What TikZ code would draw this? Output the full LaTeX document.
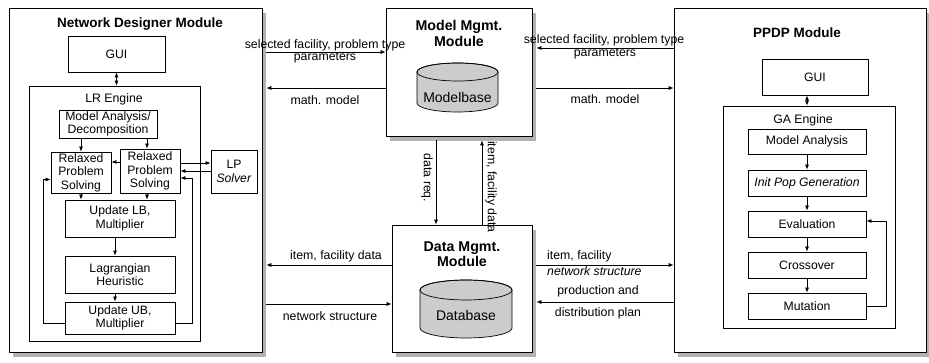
\documentclass[tikz,border=0pt]{standalone}
\usepackage{fontspec}
\setmainfont{Liberation Sans}
\usetikzlibrary{arrows.meta,shadows,calc}
\begin{document}
\begin{tikzpicture}[x=1pt,y=-1pt,
  lbl/.style={font=\fontsize{12.3}{13.5}\selectfont, inner sep=0pt, align=center},
  cyltext/.style={font=\fontsize{14}{16}\selectfont, inner sep=0pt},
  box/.style={draw, line width=0.8pt, fill=white, inner sep=0pt, align=center, font=\fontsize{12.2}{13.5}\selectfont},
  engine/.style={draw, line width=0.8pt},
  module/.style={draw, line width=0.7pt, fill=white, drop shadow={shadow xshift=4pt, shadow yshift=-5pt, fill=gray!60, opacity=1}},
  title/.style={font=\bfseries\fontsize{13.5}{16}\selectfont, inner sep=0pt, align=center},
  arr/.style={line width=0.7pt, -{Latex[length=5pt,width=4pt]}},
  darr/.style={line width=0.7pt, {Latex[length=5pt,width=4pt]}-{Latex[length=5pt,width=4pt]}},
  cylfill/.style={fill=gray!40, draw, line width=0.7pt}
]
\useasboundingbox (0,0) rectangle (929,363);

% modules
\node[module, minimum width=253pt, minimum height=344pt] (ndm) at (135.5,180) {};
\node[module, minimum width=146pt, minimum height=128pt] (mmm) at (459,72) {};
\node[module, minimum width=140pt, minimum height=127pt] (dmm) at (462,288.5) {};
\node[module, minimum width=252pt, minimum height=344pt] (ppdp) at (800,180) {};

% ---------- Network designer module
\node[title] (ndmt) at (140,24) {Network Designer Module};
\node[box, minimum width=97pt, minimum height=36pt] (gui1) at (116.5,54) {GUI};
\node[engine, minimum width=171pt, minimum height=255pt] (lr) at (114.5,213.5) {};
\node[lbl] (lrt) at (114,99) {LR Engine};
\node[box, minimum width=98pt, minimum height=28pt] (mad) at (108,124) {Model Analysis/\\Decomposition};
\node[box, minimum width=60pt, minimum height=41pt] (rps1) at (81,172.5) {Relaxed\\Problem\\Solving};
\node[box, minimum width=60pt, minimum height=44pt] (rps2) at (150,171) {Relaxed\\Problem\\Solving};
\node[box, minimum width=46pt, minimum height=43pt] (lp) at (234,171.5) {LP\\\textit{Solver}};
\node[box, minimum width=110pt, minimum height=37pt] (lb) at (120,218.5) {Update LB,\\Multiplier};
\node[box, minimum width=110pt, minimum height=37pt] (lh) at (120,274.5) {Lagrangian\\Heuristic};
\node[box, minimum width=110pt, minimum height=32pt] (ub) at (120,318) {Update UB,\\Multiplier};

\draw[darr] (gui1.south) -- (gui1.south |- lr.north);
\draw[arr] (mad.south -| rps1.north) -- (rps1.north);
\draw[arr] ([xshift=-3pt]mad.south -| rps2.north) -- ([xshift=-3pt]rps2.north);
\draw[arr] ([yshift=9pt]rps2.west) -- ([yshift=9pt]rps2.west -| rps1.east);
\draw[arr] ([yshift=8pt]rps2.east) -- ([yshift=8pt]rps2.east -| lp.west);
\draw[arr] (rps2.east -| lp.west) -- (rps2.east);
\draw[arr] (rps1.south) -- (rps1.south |- lb.north);
\draw[arr] ([xshift=-3pt]rps2.south) -- ([xshift=-3pt]rps2.south |- lb.north);
\draw[arr] ([xshift=-5pt]lb.south) -- ([xshift=-5pt]lh.north);
\draw[arr] ([xshift=-5pt]lh.south) -- ([xshift=-5pt]ub.north);
\coordinate (lxl) at (43,318);
\coordinate (lxr) at (192,318);
\draw[arr] ([yshift=-5pt]ub.west) -- ([yshift=-5pt]ub.west -| lxl) -- ([yshift=-7pt]rps1.west -| lxl) -- ([yshift=-7pt]rps1.west);
\draw[arr] ([yshift=-5pt]ub.east) -- ([yshift=-5pt]ub.east -| lxr) -- ([yshift=-7pt]rps2.east -| lxr) -- ([yshift=-7pt]rps2.east);

% ---------- PPDP module
\node[title] (ppdpt) at (797,33) {PPDP Module};
\node[box, minimum width=106pt, minimum height=36pt] (gui2) at (815,77) {GUI};
\node[engine, minimum width=172pt, minimum height=222pt] (ga) at (809,217) {};
\node[lbl] (gat) at (803,120) {GA Engine};
\node[box, minimum width=118pt, minimum height=25pt] (ma2) at (807,141.5) {Model Analysis};
\node[box, minimum width=118pt, minimum height=26pt] (init) at (807,183) {\textit{Init Pop Generation}};
\node[box, minimum width=118pt, minimum height=26pt] (eval) at (807,224) {Evaluation};
\node[box, minimum width=118pt, minimum height=26pt] (cross) at (807,265) {Crossover};
\node[box, minimum width=118pt, minimum height=26pt] (mut) at (807,306) {Mutation};
\draw[darr] (gui2.south -| ma2.north) -- (ga.north -| ma2.north);
\draw[arr] (ma2.south) -- (init.north);
\draw[arr] (init.south) -- (eval.north);
\draw[arr] (eval.south) -- (cross.north);
\draw[arr] (cross.south) -- (mut.north);
\coordinate (fbx) at (886,300);
\draw[arr] (mut.east) -- (mut.east -| fbx) -- ([yshift=3pt]eval.east -| fbx) -- ([yshift=3pt]eval.east);

% ---------- Model management module
\node[title, font=\bfseries\fontsize{14.2}{16}\selectfont] (mmt) at (459,33) {Model Mgmt.\\Module};
\draw[cylfill] (417,72) -- (417,103) arc[start angle=180,end angle=360,x radius=40.5pt,y radius=9pt] -- (498,72) arc[start angle=0,end angle=180,x radius=40.5pt,y radius=9pt] -- cycle;
\draw[line width=0.7pt] (457.5,72) ellipse [x radius=40.5pt, y radius=9pt];
\node[cyltext] (mbt) at (457.5,97) {Modelbase};

% ---------- Data management module
\node[title, font=\bfseries\fontsize{14.2}{15}\selectfont] (dmt) at (462,254) {Data Mgmt.\\Module};
\draw[cylfill] (420,290) -- (420,328) arc[start angle=180,end angle=360,x radius=46pt,y radius=10pt] -- (512,290) arc[start angle=0,end angle=180,x radius=46pt,y radius=10pt] -- cycle;
\draw[line width=0.7pt] (466,290) ellipse [x radius=46pt, y radius=10pt];
\node[cyltext] (dbt) at (466,315) {Database};

% ---------- inter-module connectors
\draw[arr] ([xshift=4pt,yshift=20pt]ndm.east |- mmm.west) -- ([yshift=20pt]mmm.west);
\draw[arr] ([yshift=-16pt]mmm.west) -- ([xshift=4pt,yshift=-16pt]ndm.east |- mmm.west);
\draw[arr] ([yshift=24pt]ppdp.west |- mmm.east) -- ([xshift=4pt,yshift=24pt]mmm.east);
\draw[arr] ([xshift=4pt,yshift=-16pt]mmm.east) -- ([yshift=-16pt]ppdp.west |- mmm.east);
\draw[arr] ([yshift=23.5pt]dmm.west) -- ([xshift=4pt,yshift=23.5pt]ndm.east |- dmm.west);
\draw[arr] ([xshift=4pt,yshift=-15.5pt]ndm.east |- dmm.west) -- ([yshift=-15.5pt]dmm.west);
\draw[arr] ([xshift=4pt,yshift=23.5pt]dmm.east) -- ([yshift=23.5pt]ppdp.west |- dmm.east);
\draw[arr] ([yshift=-13.5pt]ppdp.west |- dmm.east) -- ([xshift=4pt,yshift=-13.5pt]dmm.east);
\draw[arr] ([xshift=-23pt,yshift=-4pt]mmm.south) -- ([xshift=-23pt]mmm.south |- dmm.north);
\draw[arr] ([xshift=23pt]mmm.south |- dmm.north) -- ([xshift=23pt,yshift=-4pt]mmm.south);

% ---------- connector labels
\node[lbl] (l1a) at (325,45) {selected facility, problem type};
\node[lbl] (l1b) at (325,58) {parameters};
\node[lbl] (l2) at (325,100) {math. model};
\node[lbl] (r1a) at (604,40) {selected facility, problem type};
\node[lbl] (r1b) at (605,54) {parameters};
\node[lbl] (r2) at (605,99) {math. model};
\node[lbl] (l3) at (336,256) {item, facility data};
\node[lbl] (l4) at (330,316) {network structure};
\node[lbl, anchor=west] (r3a) at (547,256) {item, facility};
\node[lbl, anchor=west] (r3b) at (547,271) {\textit{network structure}};
\node[lbl] (r4a) at (598,291) {production and};
\node[lbl] (r4b) at (598,313) {distribution plan};
\node[lbl, rotate=-90] (drq) at (427,178) {data req.};
\node[lbl, rotate=-90] (ifd) at (491,187) {item, facility data};
\end{tikzpicture}
\end{document}
